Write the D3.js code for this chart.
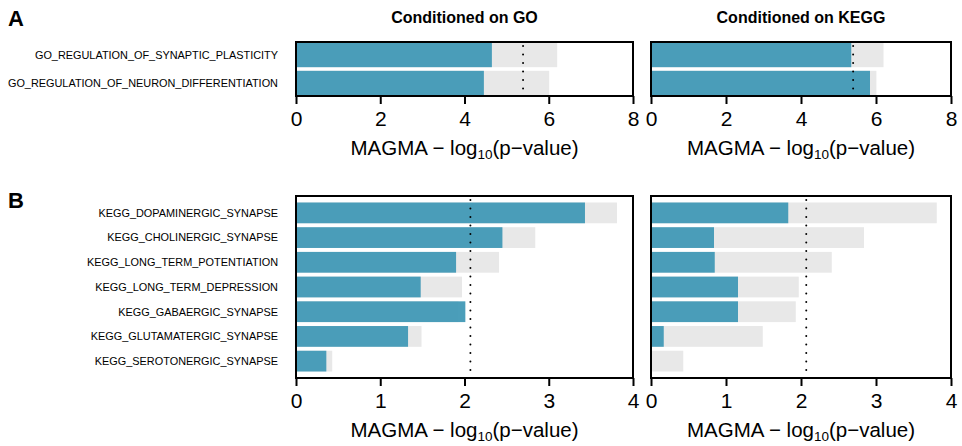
<!DOCTYPE html>
<html>
<head>
  <meta charset="utf-8">
<script src="https://cdnjs.cloudflare.com/ajax/libs/d3/7.8.5/d3.min.js"></script>
<style>
  body { margin: 0; background: #fff; }
  text { font-family: "Liberation Sans", Arial, Helvetica, sans-serif; }
</style>
</head>
<body>
<svg width="962" height="446"></svg>
<script>
// pathway names
var goTerms = ["GO_REGULATION_OF_SYNAPTIC_PLASTICITY",
               "GO_REGULATION_OF_NEURON_DIFFERENTIATION"];
var keggTerms = ["KEGG_DOPAMINERGIC_SYNAPSE", "KEGG_CHOLINERGIC_SYNAPSE",
                 "KEGG_LONG_TERM_POTENTIATION", "KEGG_LONG_TERM_DEPRESSION",
                 "KEGG_GABAERGIC_SYNAPSE", "KEGG_GLUTAMATERGIC_SYNAPSE",
                 "KEGG_SEROTONERGIC_SYNAPSE"];

// -log10(p) without conditioning (grey)
var goMarginal   = [6.20, 6.01];
var keggMarginal = [3.81, 2.84, 2.41, 1.97, 1.93, 1.49, 0.43];

// -log10(p) after conditioning (blue)
var goOnGO     = [4.65, 4.46];
var goOnKEGG   = [5.34, 5.84];
var keggOnGO   = [3.43, 2.45, 1.90, 1.48, 2.01, 1.33, 0.36];
var keggOnKEGG = [1.83, 0.84, 0.85, 1.16, 1.16, 0.17, 0];

var goThreshold = 5.39, keggThreshold = 2.07;
var goTicks   = [0, 2, 4, 6, 8];
var keggTicks = [0, 1, 2, 3, 4];
var panelTitles = ["Conditioned on GO", "Conditioned on KEGG"];

var svg = d3.select("svg");
var blue = "#4199b6", grey = "#e8e8e8";

function drawPanel(o) {
  var x = d3.scaleLinear().domain([0, o.ticks[o.ticks.length - 1]]).range([o.x0, o.x1]);
  var y = d3.scaleBand().domain(o.terms)
            .range([o.y0 + o.pad, o.y1 - o.pad])
            .paddingInner(o.inner).paddingOuter(0);
  var g = svg.append("g");

  g.selectAll(".bg").data(o.terms).enter().append("rect")
    .attr("x", x(0)).attr("y", d => y(d))
    .attr("width", (d, i) => x(o.marginal[i]) - x(0))
    .attr("height", y.bandwidth())
    .attr("fill", grey);

  g.selectAll(".fg").data(o.terms).enter().append("rect")
    .attr("x", x(0)).attr("y", d => y(d))
    .attr("width", (d, i) => x(o.cond[i]) - x(0))
    .attr("height", y.bandwidth())
    .attr("fill", blue).attr("fill-opacity", 0.95);

  g.append("line")
    .attr("x1", x(o.threshold)).attr("x2", x(o.threshold))
    .attr("y1", o.y0 + 4).attr("y2", o.y1)
    .attr("stroke", "#000").attr("stroke-width", 2)
    .attr("stroke-linecap", "round")
    .attr("stroke-dasharray", "0.1,8.4");

  g.append("rect")
    .attr("x", o.x0).attr("y", o.y0)
    .attr("width", o.x1 - o.x0).attr("height", o.y1 - o.y0)
    .attr("fill", "none").attr("stroke", "#000").attr("stroke-width", 2);

  var ax = g.append("g")
    .attr("transform", "translate(0," + o.y1 + ")")
    .call(d3.axisBottom(x).tickValues(o.ticks).tickSize(8).tickSizeOuter(0).tickFormat(d3.format("d")));
  ax.select(".domain").remove();
  ax.selectAll(".tick line").attr("stroke", "#000").attr("stroke-width", 2);
  ax.selectAll(".tick text")
    .attr("y", 30).attr("dy", 0)
    .attr("fill", "#000")
    .style("font-family", "'Liberation Sans', Arial, sans-serif")
    .style("font-size", "21px");

  var t = g.append("text")
    .attr("x", (o.x0 + o.x1) / 2).attr("y", o.y1 + 59)
    .attr("text-anchor", "middle")
    .style("font-size", "20.5px");
  t.append("tspan").text("MAGMA \u2212 log");
  t.append("tspan").text("10").attr("dy", 4).style("font-size", "13.5px");
  t.append("tspan").text("(p\u2212value)").attr("dy", -4);

  if (o.labels) {
    g.selectAll(".lab").data(o.terms).enter().append("text")
      .attr("x", 278).attr("y", d => y(d) + y.bandwidth() / 2)
      .attr("dy", "0.35em")
      .attr("text-anchor", "end")
      .style("font-size", "10.9px")
      .text(d => d);
  }
  if (o.title) {
    g.append("text")
      .attr("x", (o.x0 + o.x1) / 2).attr("y", 23)
      .attr("text-anchor", "middle")
      .style("font-size", "16px").style("font-weight", "bold")
      .text(o.title);
  }
}

var leftX = [296, 633], rightX = [651, 951];

drawPanel({terms: goTerms, marginal: goMarginal, cond: goOnGO, threshold: goThreshold,
           ticks: goTicks, x0: leftX[0], x1: leftX[1], y0: 42, y1: 96, pad: 0.8, inner: 0.13,
           labels: true, title: panelTitles[0]});
drawPanel({terms: goTerms, marginal: goMarginal, cond: goOnKEGG, threshold: goThreshold,
           ticks: goTicks, x0: rightX[0], x1: rightX[1], y0: 42, y1: 96, pad: 0.8, inner: 0.13,
           labels: false, title: panelTitles[1]});
drawPanel({terms: keggTerms, marginal: keggMarginal, cond: keggOnGO, threshold: keggThreshold,
           ticks: keggTicks, x0: leftX[0], x1: leftX[1], y0: 196, y1: 378, pad: 6.5, inner: 0.16,
           labels: true});
drawPanel({terms: keggTerms, marginal: keggMarginal, cond: keggOnKEGG, threshold: keggThreshold,
           ticks: keggTicks, x0: rightX[0], x1: rightX[1], y0: 196, y1: 378, pad: 6.5, inner: 0.16,
           labels: false});

svg.append("text").attr("x", 8).attr("y", 26)
  .style("font-size", "22px").style("font-weight", "bold").text("A");
svg.append("text").attr("x", 8).attr("y", 208)
  .style("font-size", "22px").style("font-weight", "bold").text("B");
</script>
</body>
</html>
